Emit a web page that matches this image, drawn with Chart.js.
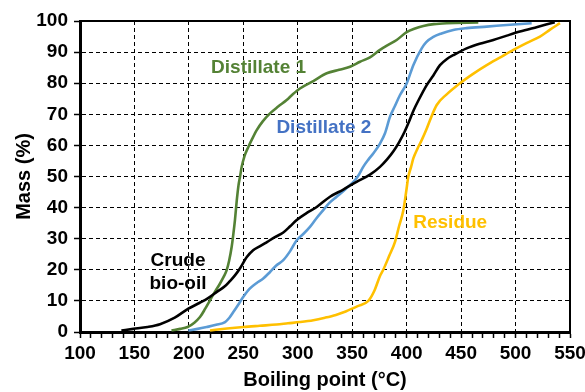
<!DOCTYPE html>
<html><head><meta charset="utf-8">
<script src="https://cdn.jsdelivr.net/npm/chart.js@4/dist/chart.umd.min.js"></script>
<style>html,body{margin:0;padding:0;background:#fff}</style>
</head><body>
<canvas id="c" width="585" height="392"></canvas>
<script>
// Data: [boiling point (°C), mass (%)]
const crudeBioOil = [[138,0.5],[149,1],[162,1.6],[173.5,2.5],[187,4.6],[199.5,7.5],[210,9.4],[218,11],[226,13],[233,14.7],[238,16.5],[242.3,18.2],[247,20.5],[253,24],[259,26.3],[265,27.5],[272,29],[279,30.5],[286.7,32],[293,34],[299,36],[308,38.2],[317.4,40.2],[329.6,43.5],[341.8,45.8],[354,48.3],[366.3,50.6],[375.5,53.1],[382,55.5],[388,58.2],[393,61],[398,64.3],[402,67.5],[406,71],[411,74.6],[418.4,79.4],[424.5,82.5],[430.6,85.8],[437,87.8],[442.8,89],[455,91.2],[467,92.7],[479.6,93.9],[492,95.3],[504,96.6],[520,98.1],[536,99.6]];
const distillate1 = [[184,0.5],[192,1],[198.8,1.6],[205,3],[210.2,4.8],[215,7.5],[219.4,10.2],[224,13],[228.6,15.6],[232,17.8],[234.7,19.9],[237,23],[239.3,27.4],[241,32],[242.3,36],[244,42.4],[245.5,47],[247,50],[248.5,53.1],[251,56.5],[254.6,59.5],[258,62],[262.3,64.9],[268,67.8],[274.5,70.3],[282,72.5],[289.8,74.6],[295,76.3],[302,78.3],[314.3,80.7],[326.6,83.2],[338,84.3],[348,85.3],[357.2,86.9],[366.3,88.3],[375.5,90.7],[383,92.3],[390.8,93.9],[400,96.4],[407,97.5],[415.3,98.4],[425,99],[436.7,99.3],[465.8,99.5]];
const distillate2 = [[199.5,0.5],[208,1],[216.3,1.6],[225,2.3],[233.2,3.2],[237,4.5],[240.8,6.4],[245,8.6],[250,11.3],[256.1,14],[262,15.7],[268.3,17.2],[274.5,19.3],[280,21.3],[286.7,23.1],[293,26],[299,29.5],[305,31.5],[311.2,33.8],[317,36.5],[323.4,39.2],[329,41.5],[335.7,43.5],[344,46],[352.4,48.8],[356,50.5],[360.1,53.1],[365,55.5],[369.3,57.4],[375.5,60.6],[380.1,63.9],[384.7,69.2],[389,72.5],[393.9,76.2],[400,79.9],[406.1,85.8],[413.8,91.2],[418,93.2],[424.5,94.9],[432,96],[442.8,97.1],[455,97.7],[473.5,98.2],[495,98.8],[514.8,99.3]];
const residue = [[219.4,0.5],[235,1.1],[250,1.6],[265,2],[280.6,2.4],[291,2.8],[302,3.2],[314.3,3.8],[325,4.6],[335,5.5],[344,6.6],[355,8.3],[364.8,10],[370,13],[375.5,18],[378.5,20],[384,24.5],[389.3,29],[393,34],[397,39.2],[399.5,45],[401.5,49.9],[404,53],[406.1,55.8],[410,59],[413.8,61.7],[418,65],[421.4,68.1],[427.6,73],[437,76.5],[449,80],[461,83],[473.5,85.8],[486,88.3],[498,90.7],[510,92.9],[522.4,95],[532,97.3],[540.8,99.3]];

const seriesNames = ['Residue','Crude bio-oil','Distillate 2','Distillate 1'];
const xTitle = 'Boiling point (°C)';
const yTitle = 'Mass (%)';
// In-chart labels: [text lines, x value, y value, colour]
const annotations = [
  [['Distillate 1'], 264, 85, '#548235'],
  [['Distillate 2'], 324, 65.6, '#4472C4'],
  [['Crude','bio-oil'], 190, 19.3, '#000000'],
  [['Residue'], 440, 35, '#FFC000']
];

const FONT = "'Liberation Sans', Arial, Helvetica, sans-serif";
const toPts = a => a.map(p => ({x:p[0], y:p[1]}));
const mk = (label, d, color, w) => ({label, data: toPts(d), borderColor: color, backgroundColor: color,
  borderWidth: w, showLine: true, pointRadius: 0, cubicInterpolationMode: 'monotone', fill: false});

const labelPlugin = {
  id: 'labels',
  afterDatasetsDraw(chart) {
    const {ctx, scales:{x, y}, chartArea:a} = chart;
    ctx.save();
    ctx.strokeStyle = '#000'; ctx.lineWidth = 2;
    ctx.beginPath();
    ctx.moveTo(a.left, a.top); ctx.lineTo(a.right, a.top); ctx.lineTo(a.right, a.bottom);
    ctx.stroke();
    ctx.font = 'bold 19px ' + FONT;
    ctx.textAlign = 'center'; ctx.textBaseline = 'middle';
    annotations.forEach(([lines, xv, yv, col]) => {
      ctx.fillStyle = col;
      const px = x.getPixelForValue(xv), py = y.getPixelForValue(yv);
      const lh = 23;
      lines.forEach((t, i) => ctx.fillText(t, px, py - (lines.length - 1) * lh / 2 + i * lh));
    });
    ctx.restore();
  }
};

new Chart(document.getElementById('c'), {
  type: 'scatter',
  data: { datasets: [
    mk(seriesNames[0], residue, '#FFC000', 2.6),
    mk(seriesNames[1], crudeBioOil, '#000000', 2.6),
    mk(seriesNames[2], distillate2, '#5B9BD5', 2.6),
    mk(seriesNames[3], distillate1, '#548235', 2.6)
  ]},
  options: {
    responsive: false, animation: false, devicePixelRatio: 1,
    layout: { padding: { top: 21, right: 15, left: 0, bottom: 0 } },
    plugins: { legend: { display: false }, tooltip: { enabled: false } },
    scales: {
      x: {
        type: 'linear', min: 100, max: 550,
        ticks: { stepSize: 10, autoSkip: false, maxRotation: 0, color: '#000', padding: 4,
          font: { family: FONT, size: 19, weight: 'bold' },
          callback: v => (v % 50 === 0 ? String(v) : '') },
        grid: { color: c => (c.tick && c.tick.value % 50 === 0 && c.tick.value !== 100 && c.tick.value !== 550) ? '#000' : 'rgba(0,0,0,0)',
          lineWidth: 1, tickColor: '#000', tickLength: 6, tickWidth: 1.5 },
        border: { display: true, color: '#000', width: 3, dash: [4, 3] },
        title: { display: true, text: xTitle, color: '#000', font: { family: FONT, size: 20, weight: 'bold' }, padding: { top: 0, bottom: 0 } },
        afterFit: s => { s.height = 60; s.paddingLeft = 0; s.paddingRight = 0; }
      },
      y: {
        type: 'linear', min: 0, max: 100,
        ticks: { stepSize: 10, color: '#000', padding: 6, font: { family: FONT, size: 19, weight: 'bold' } },
        grid: { color: c => (c.tick && c.tick.value !== 0 && c.tick.value !== 100) ? '#000' : 'rgba(0,0,0,0)',
          lineWidth: 1, tickColor: '#000', tickLength: 6, tickWidth: 1.5 },
        border: { display: true, color: '#000', width: 3, dash: [4, 3] },
        title: { display: true, text: yTitle, color: '#000', font: { family: FONT, size: 20, weight: 'bold' }, padding: { top: 12, bottom: 0 } },
        afterFit: s => { s.width = 80; s.paddingTop = 0; s.paddingBottom = 0; }
      }
    }
  },
  plugins: [labelPlugin]
});
</script>
</body></html>
